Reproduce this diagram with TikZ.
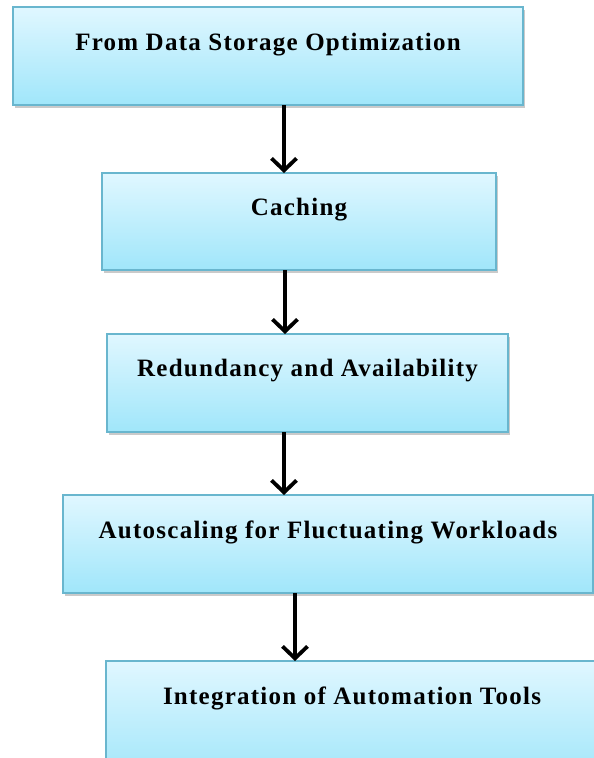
\documentclass[tikz,border=0pt]{standalone}
\usepackage{fontspec}
\newfontfamily\lblfont{Liberation Serif}[LetterSpace=5]
\usetikzlibrary{arrows.meta,shadows}
\definecolor{boxtop}{RGB}{224,247,255}
\definecolor{boxbot}{RGB}{160,230,250}
\definecolor{boxline}{RGB}{105,182,206}
\tikzset{
  stepbox/.style={draw=boxline, line width=1.4pt, top color=boxtop, bottom color=boxbot,
    drop shadow={shadow xshift=2pt, shadow yshift=-2.5pt, opacity=0.35, fill=black!60}},
  lbl/.style={font=\lblfont\bfseries\fontsize{25}{29}\selectfont, inner sep=0pt, text=black},
  arr/.style={line width=3.8pt, -{Straight Barb[length=12pt,width=25pt]}}
}
\begin{document}
\begin{tikzpicture}[x=1pt,y=-1pt]
\useasboundingbox (0,0) rectangle (594,758);
% boxes
\path[stepbox] (13,7) rectangle (523,105);
\coordinate (b1n) at (268,7); \coordinate (b1s) at (268,105);
\path[stepbox] (102,173) rectangle (496,270);
\coordinate (b2n) at (299,173); \coordinate (b2s) at (299,270);
\path[stepbox] (107,334) rectangle (508,432);
\coordinate (b3n) at (307.5,334); \coordinate (b3s) at (307.5,432);
\path[stepbox] (63,495) rectangle (593,593);
\coordinate (b4n) at (328,495); \coordinate (b4s) at (328,593);
\path[stepbox] (106,661) rectangle (602,780);
\coordinate (b5n) at (352,661);
% labels
\node[lbl] (t1) at ([yshift=-38pt]b1n) {From Data Storage Optimization};
\node[lbl] (t2) at ([yshift=-37pt]b2n) {Caching};
\node[lbl] (t3) at ([yshift=-37pt]b3n) {Redundancy and Availability};
\node[lbl] (t4) at ([yshift=-37pt]b4n) {Autoscaling for Fluctuating Workloads};
\node[lbl] (t5) at ([yshift=-37pt]b5n) {Integration of Automation Tools};
% arrows
\draw[arr] ([xshift=16pt]b1s) -- ([xshift=-15pt]b2n);
\draw[arr] ([xshift=-14pt]b2s) -- ([xshift=-22.5pt]b3n);
\draw[arr] ([xshift=-23.5pt]b3s) -- ([xshift=-44pt]b4n);
\draw[arr] ([xshift=-33pt]b4s) -- ([xshift=-57pt]b5n);
\end{tikzpicture}
\end{document}
